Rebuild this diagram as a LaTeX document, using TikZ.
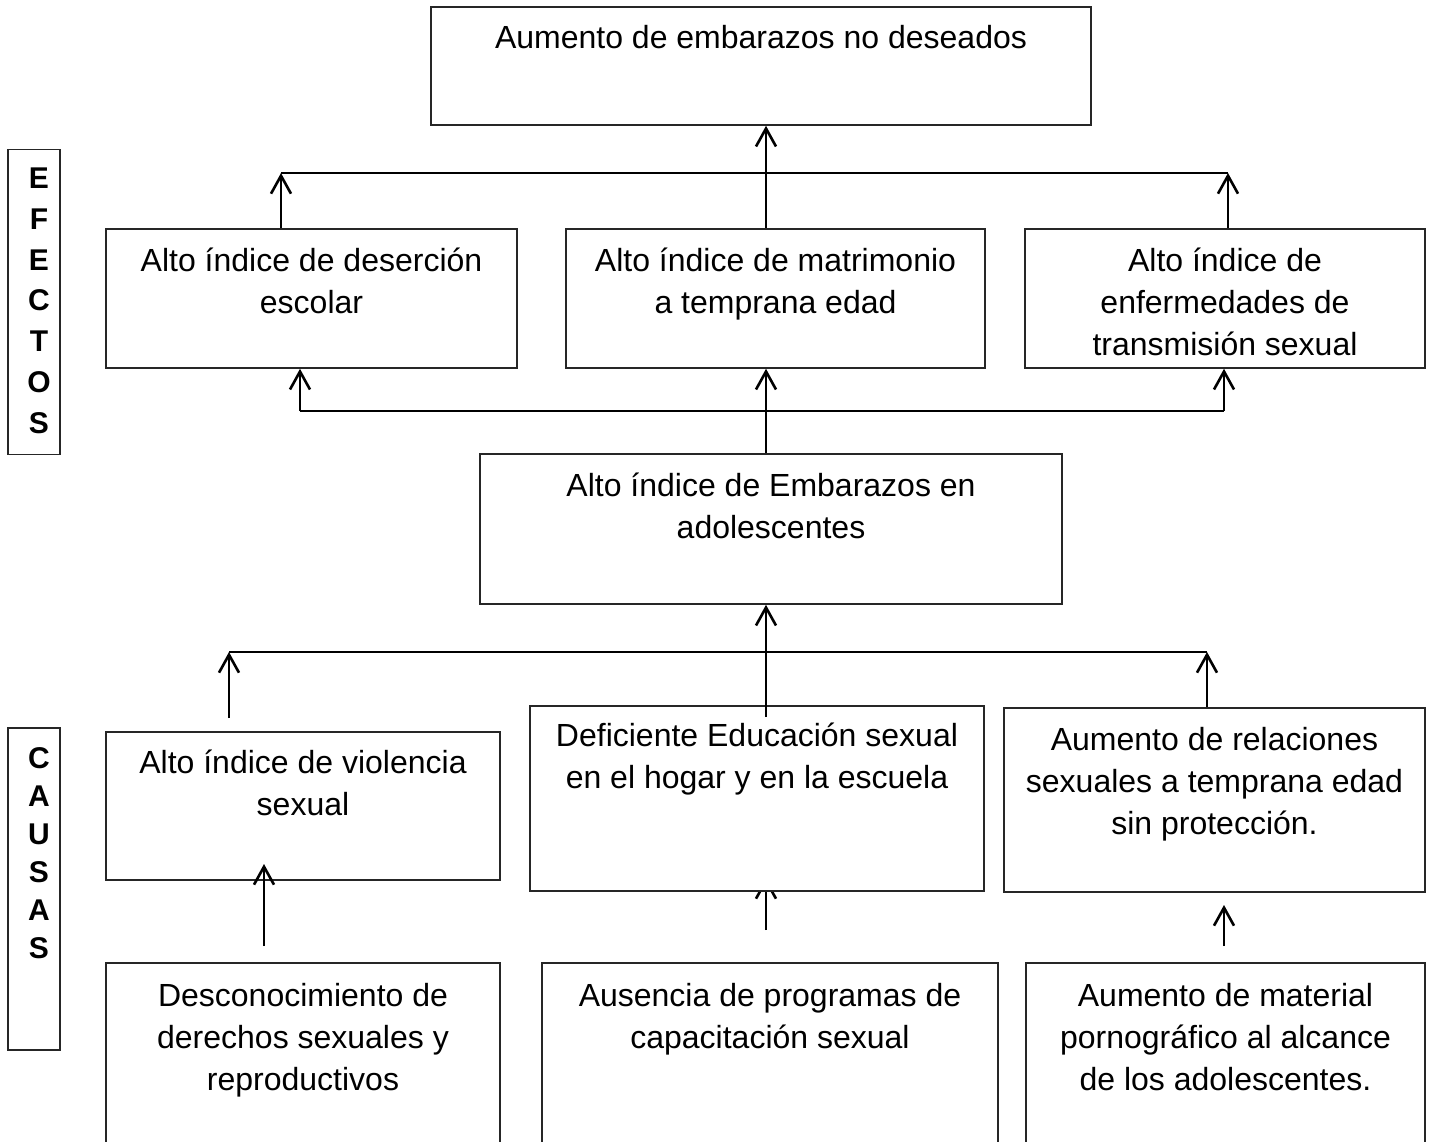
\documentclass[tikz,border=0pt]{standalone}
\usepackage{fontspec}
\setmainfont{Liberation Sans}
\usetikzlibrary{arrows.meta}
\begin{document}
\begin{tikzpicture}[x=0.5pt,y=-0.5pt,
 box/.style={draw=black!85, fill=white, line width=0.8pt, rectangle, inner sep=0pt},
 txt/.style={align=center, font=\fontsize{16}{21}\selectfont, inner sep=0pt, anchor=north},
 labE/.style={align=center, font=\fontsize{15}{20.35}\selectfont\bfseries, inner sep=0pt, anchor=north},
 labC/.style={align=center, font=\fontsize{15}{19}\selectfont\bfseries, inner sep=0pt, anchor=north},
 arr/.style={line width=1.3pt, -{Straight Barb[length=9pt,width=10pt,line width=1.3pt]}},
 ln/.style={line width=1.3pt}]
\useasboundingbox (0,0) rectangle (1448,1142);
\clip (0,0) rectangle (1448,1142);
\fill[white] (0,0) rectangle (1448,1142);
% arrow hidden mostly behind the box above it
\coordinate (A2) at (766,930); \coordinate (T2) at (766,878);
\draw[arr] (A2) -- (T2);
% boxes
\node[box, minimum width=330pt, minimum height=59pt] (top) at (761,66) {};
\node[box, minimum width=26pt, minimum height=152.5pt] (ef) at (34,302) {};
\node[box, minimum width=26pt, minimum height=161pt] (ca) at (34,889) {};
\node[box, minimum width=205.5pt, minimum height=69.5pt] (e1) at (311.5,298.5) {};
\node[box, minimum width=209.5pt, minimum height=69.5pt] (e2) at (775.5,298.5) {};
\node[box, minimum width=200pt, minimum height=69.5pt] (e3) at (1225,298.5) {};
\node[box, minimum width=291pt, minimum height=75pt] (mid) at (771,529) {};
\node[box, minimum width=197pt, minimum height=74pt] (c1) at (303,806) {};
\node[box, minimum width=227pt, minimum height=92.5pt] (c2) at (757,798.5) {};
\node[box, minimum width=210.5pt, minimum height=92pt] (c3) at (1214.5,800) {};
\node[box, minimum width=197pt, minimum height=118.5pt] (b1) at (303,1081.5) {};
\node[box, minimum width=228pt, minimum height=118.5pt] (b2) at (770,1081.5) {};
\node[box, minimum width=199.5pt, minimum height=118.5pt] (b3) at (1225.5,1081.5) {};
% texts
\node[txt] (ttop) at (761,18.6) {\strut Aumento de embarazos no deseados};
\node[txt] (te1) at (311.5,241.6) {\strut Alto índice de deserción\\escolar};
\node[txt] (te2) at (775.5,241.6) {\strut Alto índice de matrimonio\\a temprana edad};
\node[txt] (te3) at (1225,241.6) {\strut Alto índice de\\enfermedades de\\transmisión sexual};
\node[txt] (tmid) at (771,466.6) {\strut Alto índice de Embarazos en\\adolescentes};
\node[txt] (tc1) at (303,743.6) {\strut Alto índice de violencia\\sexual};
\node[txt] (tc2) at (757,716.6) {\strut Deficiente Educación sexual\\en el hogar y en la escuela};
\node[txt] (tc3) at (1214.5,720.6) {\strut Aumento de relaciones\\sexuales a temprana edad\\sin protección.};
\node[txt] (tb1) at (303,976.6) {\strut Desconocimiento de\\derechos sexuales y\\reproductivos};
\node[txt] (tb2) at (770,976.6) {\strut Ausencia de programas de\\capacitación sexual};
\node[txt] (tb3) at (1225.5,976.6) {\strut Aumento de material\\pornográfico al alcance\\de los adolescentes.};
\node[labE] (tef) at (39,160) {\strut E\\F\\E\\C\\T\\O\\S};
\node[labC] (tca) at (39,741) {\strut C\\A\\U\\S\\A\\S};
% connectors
\coordinate (mx) at (766,0);
\coordinate (L1) at (281,173); \coordinate (R1) at (1228,173);
\draw[arr] (e1.north -| L1) -- (L1);
\draw[ln] (L1) -- (R1);
\draw[arr] (e3.north -| R1) -- (R1);
\draw[arr] (e2.north -| mx) -- (top.south -| mx);
\coordinate (L2) at (300,411); \coordinate (R2) at (1224,411);
\draw[arr] (L2) -- (e1.south -| L2);
\draw[ln] (L2) -- (R2);
\draw[arr] (R2) -- (e3.south -| R2);
\draw[arr] (mid.north -| mx) -- (e2.south -| mx);
\coordinate (L3) at (229,652); \coordinate (R3) at (1207,652);
\coordinate (L3b) at (229,718); \coordinate (M3) at (766,717);
\draw[arr] (L3b) -- (L3);
\draw[ln] (L3) -- (R3);
\draw[arr] (c3.north -| R3) -- (R3);
\draw[arr] (M3) -- (mid.south -| mx);
\coordinate (A1) at (264,946); \coordinate (T1) at (264,864);
\coordinate (A3) at (1224,946); \coordinate (T3) at (1224,905);
\draw[arr] (A1) -- (T1);
\draw[arr] (A3) -- (T3);
\end{tikzpicture}
\end{document}
